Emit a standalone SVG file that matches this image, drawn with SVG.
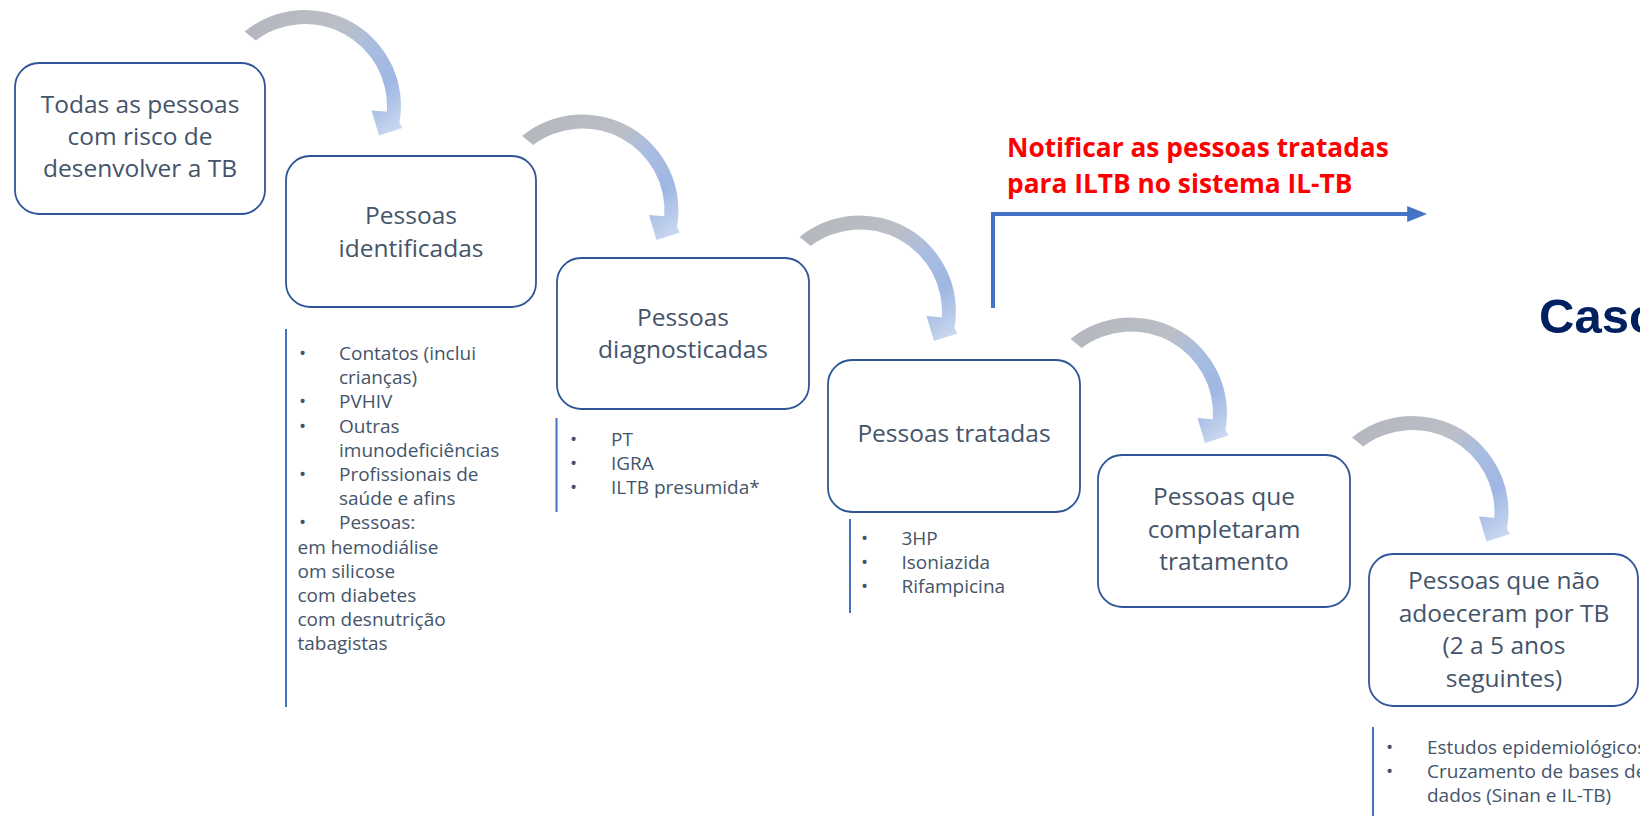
<svg xmlns="http://www.w3.org/2000/svg" xmlns:xlink="http://www.w3.org/1999/xlink" width="1640" height="816" viewBox="0 0 1640 816">
  <style>
    .box { fill: #ffffff; stroke: #2F5597; stroke-width: 1.8; }
    .bt { font-family: "Open Sans", "Liberation Sans", sans-serif; font-size: 24.5px; fill: #44546A; text-anchor: middle; }
    .lt { font-family: "Open Sans", "Liberation Sans", sans-serif; font-size: 19px; fill: #44546A; }
    .bul { font-family: "Open Sans", "Liberation Sans", sans-serif; font-size: 19px; fill: #44546A; }
    .vline { stroke: #4472C4; stroke-width: 2; fill: none; }
    .red { font-family: "Open Sans", "Liberation Sans", sans-serif; font-size: 26.3px; font-weight: bold; fill: #FF0000; }
    .caso { font-family: "Liberation Sans", Arial, sans-serif; font-size: 49px; font-weight: bold; fill: #002060; }
  </style>
  <defs>
    <linearGradient id="curlGrad" x1="0" y1="0" x2="1" y2="1">
      <stop offset="0" stop-color="#B3B6BC"/>
      <stop offset="0.38" stop-color="#BBBFC7"/>
      <stop offset="0.55" stop-color="#A9BDE2"/>
      <stop offset="0.75" stop-color="#9FB7E2"/>
      <stop offset="1" stop-color="#D2DEF3"/>
    </linearGradient>
    <path id="curl" d="M244.6,31.4 A96,96 0 0 1 399.5,122.7 L402.5,128 L379,135.5 L371.5,110.5 L386.8,111.7 A82,82 0 0 0 255.7,40.5 Z" fill="url(#curlGrad)"/>
    <marker id="blueHead" markerWidth="5" markerHeight="4" refX="0.2" refY="2" orient="auto" markerUnits="strokeWidth">
      <path d="M0,0 L5,2 L0,4 Z" fill="#4472C4"/>
    </marker>
  </defs>

  <rect width="1640" height="816" fill="#ffffff"/>

  <g id="connectors">
    <use xlink:href="#curl" href="#curl"/>
    <use xlink:href="#curl" href="#curl" transform="translate(277.5,104.5)"/>
    <use xlink:href="#curl" href="#curl" transform="translate(555,205.5)"/>
    <use xlink:href="#curl" href="#curl" transform="translate(826,307.5)"/>
    <use xlink:href="#curl" href="#curl" transform="translate(1107.5,406)"/>
    <path d="M993,308 L993,214 L1408,214" fill="none" stroke="#4472C4" stroke-width="4" marker-end="url(#blueHead)"/>
  </g>

  <g id="node-todas">
    <rect class="box" x="15" y="63" width="250" height="151" rx="24"/>
    <text class="bt" x="140" y="113">Todas as pessoas</text>
    <text class="bt" x="140" y="145">com risco de</text>
    <text class="bt" x="140" y="177">desenvolver a TB</text>
  </g>

  <g id="node-identificadas">
    <rect class="box" x="286" y="156" width="250" height="151" rx="24"/>
    <text class="bt" x="411" y="224">Pessoas</text>
    <text class="bt" x="411" y="257">identificadas</text>
  </g>

  <g id="node-diagnosticadas">
    <rect class="box" x="557" y="258" width="252" height="151" rx="24"/>
    <text class="bt" x="683" y="326">Pessoas</text>
    <text class="bt" x="683" y="358">diagnosticadas</text>
  </g>

  <g id="node-tratadas">
    <rect class="box" x="828" y="360" width="252" height="152" rx="24"/>
    <text class="bt" x="954" y="442">Pessoas tratadas</text>
  </g>

  <g id="node-completaram">
    <rect class="box" x="1098" y="455" width="252" height="152" rx="24"/>
    <text class="bt" x="1224" y="505">Pessoas que</text>
    <text class="bt" x="1224" y="537.5">completaram</text>
    <text class="bt" x="1224" y="570">tratamento</text>
  </g>

  <g id="node-nao-adoeceram">
    <rect class="box" x="1369" y="554" width="269" height="152" rx="24"/>
    <text class="bt" x="1504" y="589">Pessoas que não</text>
    <text class="bt" x="1504" y="621.5">adoeceram por TB</text>
    <text class="bt" x="1504" y="654">(2 a 5 anos</text>
    <text class="bt" x="1504" y="686.5">seguintes)</text>
  </g>

  <g id="list-identificadas">
    <line class="vline" x1="286" y1="329" x2="286" y2="707"/>
    <text class="bul" x="299" y="360">•</text>
    <text class="lt" x="339" y="360">Contatos (inclui</text>
    <text class="lt" x="339" y="384.2">crianças)</text>
    <text class="bul" x="299" y="408.4">•</text>
    <text class="lt" x="339" y="408.4">PVHIV</text>
    <text class="bul" x="299" y="432.6">•</text>
    <text class="lt" x="339" y="432.6">Outras</text>
    <text class="lt" x="339" y="456.8">imunodeficiências</text>
    <text class="bul" x="299" y="481">•</text>
    <text class="lt" x="339" y="481">Profissionais de</text>
    <text class="lt" x="339" y="505.2">saúde e afins</text>
    <text class="bul" x="299" y="529.4">•</text>
    <text class="lt" x="339" y="529.4">Pessoas:</text>
    <text class="lt" x="297.5" y="553.6">em hemodiálise</text>
    <text class="lt" x="297.5" y="577.8">om silicose</text>
    <text class="lt" x="297.5" y="602">com diabetes</text>
    <text class="lt" x="297.5" y="626.2">com desnutrição</text>
    <text class="lt" x="297.5" y="650.4">tabagistas</text>
  </g>

  <g id="list-diagnosticadas">
    <line class="vline" x1="556.5" y1="418" x2="556.5" y2="512"/>
    <text class="bul" x="570" y="446">•</text>
    <text class="lt" x="611" y="446">PT</text>
    <text class="bul" x="570" y="470">•</text>
    <text class="lt" x="611" y="470">IGRA</text>
    <text class="bul" x="570" y="493.5">•</text>
    <text class="lt" x="611" y="493.5">ILTB presumida*</text>
  </g>

  <g id="list-tratadas">
    <line class="vline" x1="850" y1="519" x2="850" y2="613"/>
    <text class="bul" x="861" y="544.5">•</text>
    <text class="lt" x="901.5" y="544.5">3HP</text>
    <text class="bul" x="861" y="568.5">•</text>
    <text class="lt" x="901.5" y="568.5">Isoniazida</text>
    <text class="bul" x="861" y="592.5">•</text>
    <text class="lt" x="901.5" y="592.5">Rifampicina</text>
  </g>

  <g id="list-nao-adoeceram">
    <line class="vline" x1="1373" y1="727" x2="1373" y2="816"/>
    <text class="bul" x="1386" y="754">•</text>
    <text class="lt" x="1427" y="754">Estudos epidemiológicos</text>
    <text class="bul" x="1386" y="778">•</text>
    <text class="lt" x="1427" y="778">Cruzamento de bases de</text>
    <text class="lt" x="1427" y="802">dados (Sinan e IL-TB)</text>
  </g>

  <g id="note-notificar">
    <text class="red" x="1007" y="157">Notificar as pessoas tratadas</text>
    <text class="red" x="1007" y="192.5">para ILTB no sistema IL-TB</text>
  </g>

  <g id="label-caso">
    <text class="caso" x="1539" y="333">Caso</text>
  </g>
</svg>
